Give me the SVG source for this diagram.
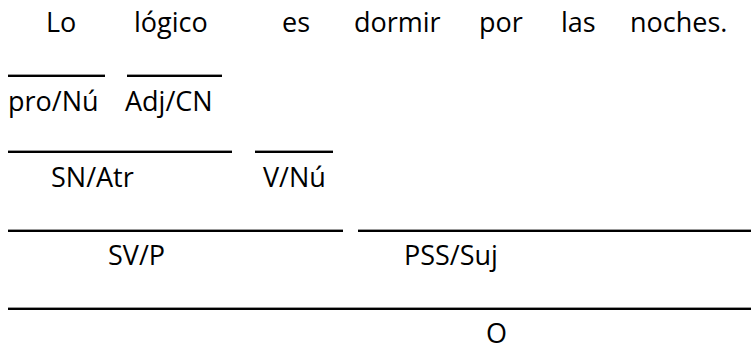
<svg xmlns="http://www.w3.org/2000/svg" width="751" height="346" viewBox="0 0 751 346">
<style>
text{font-family:"Open Sans","Noto Sans","Liberation Sans",sans-serif;font-size:27px;fill:#000}
.ln{fill:#000}
</style>
<rect width="751" height="346" fill="#fff"/>
<g id="sentence">
<text x="46" y="32">Lo</text>
<text x="134" y="32">lógico</text>
<text x="282" y="32">es</text>
<text x="354" y="32">dormir</text>
<text x="479" y="32">por</text>
<text x="561" y="32">las</text>
<text x="630" y="32">noches.</text>
</g>
<g id="connectors">
<rect class="ln" x="8" y="74.6" width="97" height="2.4"/>
<rect class="ln" x="127" y="74.6" width="95" height="2.4"/>
<rect class="ln" x="8" y="150.6" width="224" height="2.4"/>
<rect class="ln" x="255" y="150.6" width="78" height="2.4"/>
<rect class="ln" x="8" y="229.6" width="335" height="2.4"/>
<rect class="ln" x="358" y="229.6" width="393" height="2.4"/>
<rect class="ln" x="8" y="307.6" width="743" height="2.4"/>
</g>
<g id="pro-nu"><text x="8" y="111">pro/Nú</text></g>
<g id="adj-cn"><text x="125" y="111">Adj/CN</text></g>
<g id="sn-atr"><text x="51" y="187">SN/Atr</text></g>
<g id="v-nu"><text x="263" y="187">V/Nú</text></g>
<g id="sv-p"><text x="108" y="265">SV/P</text></g>
<g id="pss-suj"><text x="404" y="265">PSS/Suj</text></g>
<g id="o"><text x="486" y="343">O</text></g>
</svg>
